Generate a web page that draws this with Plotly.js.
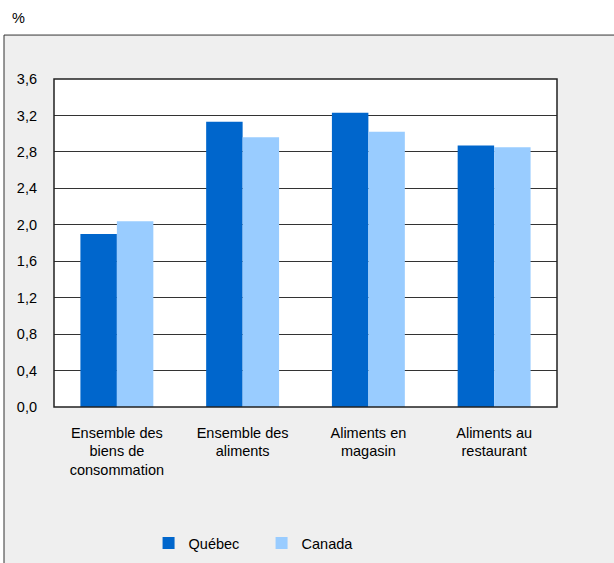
<!DOCTYPE html>
<html>
<head>
<meta charset="utf-8">
<script src="https://cdn.plot.ly/plotly-3.0.1.min.js"></script>
<style>html,body{margin:0;padding:0;background:#fff;}#chart{width:614px;height:563px;}</style>
</head>
<body>
<div id="chart"></div>
<script>
var categories = ["Ensemble des<br>biens de<br>consommation", "Ensemble des<br>aliments", "Aliments en<br>magasin", "Aliments au<br>restaurant"];
var quebecValues = [1.9, 3.13, 3.23, 2.87];
var canadaValues = [2.04, 2.96, 3.02, 2.85];
var tickValues = [0, 0.4, 0.8, 1.2, 1.6, 2.0, 2.4, 2.8, 3.2, 3.6];
var tickLabels = ["0,0", "0,4", "0,8", "1,2", "1,6", "2,0", "2,4", "2,8", "3,2", "3,6"];

var font = {family: "Liberation Sans, Arial, sans-serif", size: 14.5, color: "#000"};

var traces = [
  {type: "bar", name: "Québec", x: categories, y: quebecValues, marker: {color: "#0066cc"}, hoverinfo: "none"},
  {type: "bar", name: "Canada", x: categories, y: canadaValues, marker: {color: "#99ccff"}, hoverinfo: "none"}
];

var layout = {
  width: 614, height: 563,
  margin: {l: 54, r: 57, t: 79, b: 156, autoexpand: false},
  paper_bgcolor: "#ffffff",
  plot_bgcolor: "rgba(0,0,0,0)",
  font: font,
  barmode: "group",
  bargap: 0.42,
  bargroupgap: 0,
  showlegend: true,
  legend: {orientation: "h", x: 0.188, xanchor: "left", y: -0.415, yanchor: "middle", font: font, bgcolor: "rgba(0,0,0,0)", entrywidth: 68, traceorder: "normal"},
  xaxis: {showgrid: false, zeroline: false, showline: false, ticks: "", tickfont: font, ticklabelstandoff: 15, fixedrange: true},
  yaxis: {range: [0, 3.6], tickvals: tickValues, ticktext: tickLabels, showgrid: true, gridcolor: "#333", gridwidth: 1, zeroline: false, showline: false, ticks: "", tickfont: font, ticklabelstandoff: 16, fixedrange: true},
  shapes: [
    {type: "rect", xref: "paper", yref: "paper", x0: -0.0994, x1: 1.2, y0: -0.6, y1: 1.134, fillcolor: "#efefef", line: {color: "#333", width: 1}, layer: "below"},
    {type: "rect", xref: "paper", yref: "paper", x0: 0, x1: 1, y0: 0, y1: 1, fillcolor: "#ffffff", line: {width: 0}, layer: "below"},
    {type: "rect", xref: "paper", yref: "paper", x0: 0, x1: 1, y0: 0, y1: 1, fillcolor: "rgba(0,0,0,0)", line: {color: "#222", width: 1.5}, layer: "above"}
  ],
  annotations: [
    {text: "%", xref: "paper", yref: "paper", x: -0.0875, y: 1.186, xanchor: "left", yanchor: "middle", showarrow: false, font: font}
  ]
};

Plotly.newPlot("chart", traces, layout, {displayModeBar: false, staticPlot: true});
</script>
</body>
</html>
